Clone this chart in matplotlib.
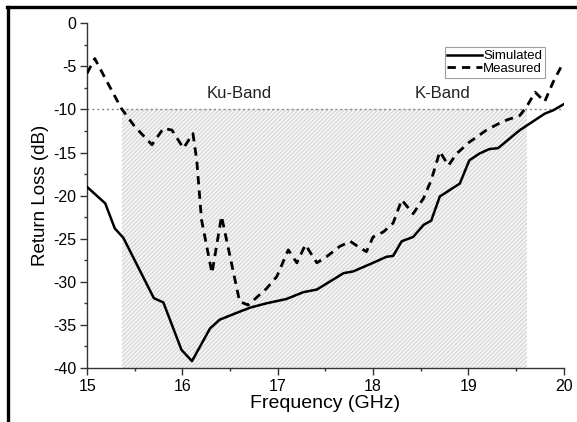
import matplotlib
matplotlib.use("Agg")
import matplotlib.pyplot as plt
from matplotlib.lines import Line2D
from matplotlib.ticker import MultipleLocator

plt.rcParams['font.family'] = ['Liberation Sans', 'DejaVu Sans']
plt.rcParams['hatch.linewidth'] = 0.6
plt.rcParams['axes.unicode_minus'] = False

sim_f = [15.0, 15.19, 15.29, 15.38, 15.70, 15.80, 15.99, 16.10, 16.29, 16.39, 16.57, 16.71,
         16.88, 17.09, 17.27, 17.41, 17.69, 17.79, 18.00, 18.14, 18.21, 18.30, 18.42, 18.53,
         18.61, 18.70, 18.91, 19.01, 19.12, 19.22, 19.31, 19.54, 19.80, 19.89, 20.0]
sim_db = [-19.0, -20.9, -23.8, -24.9, -31.9, -32.4, -37.9, -39.2, -35.4, -34.4, -33.6, -33.0,
          -32.5, -32.0, -31.2, -30.9, -29.0, -28.8, -27.8, -27.1, -27.0, -25.3, -24.8, -23.4,
          -22.9, -20.1, -18.6, -15.9, -15.1, -14.6, -14.5, -12.4, -10.5, -10.1, -9.4]

meas_f = [15.0, 15.08, 15.19, 15.36, 15.50, 15.68, 15.80, 15.89, 16.01, 16.11, 16.15, 16.20,
          16.31, 16.41, 16.60, 16.69, 16.88, 16.99, 17.11, 17.20, 17.29, 17.41, 17.51, 17.65,
          17.76, 17.84, 17.93, 18.00, 18.11, 18.21, 18.30, 18.42, 18.53, 18.61, 18.70, 18.79,
          18.88, 19.01, 19.19, 19.36, 19.54, 19.61, 19.70, 19.80, 19.89, 19.98]
meas_db = [-5.8, -4.1, -6.4, -9.9, -12.0, -14.1, -12.2, -12.4, -14.5, -12.8, -15.9, -22.8,
           -29.0, -22.4, -32.3, -32.7, -30.8, -29.4, -26.3, -27.8, -25.7, -27.8, -27.1, -25.9,
           -25.3, -25.9, -26.5, -24.8, -24.2, -23.2, -20.5, -22.1, -20.3, -18.2, -14.9, -16.5,
           -15.1, -13.8, -12.4, -11.4, -10.7, -9.7, -8.0, -9.1, -6.8, -4.9]

band_start, band_end = 15.37, 19.61
threshold = -10
band_labels = ["Ku-Band", "K-Band"]
band_label_x = [16.6, 18.73]

fig = plt.figure(figsize=(5.77, 4.22), dpi=100)
ax = fig.add_axes([0.151, 0.128, 0.826, 0.817])

ax.fill_between([band_start, band_end], [threshold, threshold], [-40, -40],
                facecolor='#f5f5f5', edgecolor='#cacaca', hatch='////////', linewidth=0, zorder=0)
ax.plot([15, 20], [threshold, threshold], linestyle=(0, (1.5, 2)), color='#888888', linewidth=1, zorder=1)

ax.plot(sim_f, sim_db, color='black', linewidth=1.8, label='Simulated', zorder=3)
ax.plot(meas_f, meas_db, color='black', linewidth=2.0, linestyle=(0, (3, 2.2)), label='Measured', zorder=3)

for t, x in zip(band_labels, band_label_x):
    ax.text(x, -8.2, t, ha='center', va='center', fontsize=12, color='#222222')

ax.set_xlim(15, 20)
ax.set_ylim(-40, 0)
ax.xaxis.set_major_locator(MultipleLocator(1))
ax.xaxis.set_minor_locator(MultipleLocator(0.5))
ax.yaxis.set_major_locator(MultipleLocator(5))
ax.yaxis.set_minor_locator(MultipleLocator(2.5))
for s in ['top', 'right']:
    ax.spines[s].set_visible(False)
for s in ['left', 'bottom']:
    ax.spines[s].set_color('#333333')
    ax.spines[s].set_linewidth(1.0)
ax.tick_params(which='major', direction='out', length=5, width=1, color='#333333', labelsize=11.5, pad=3)
ax.tick_params(which='minor', direction='out', length=2.5, width=1, color='#333333')
ax.set_xlabel('Frequency (GHz)', fontsize=14, labelpad=1)
ax.set_ylabel('Return Loss (dB)', fontsize=13.5, labelpad=3)

leg = ax.legend(loc='upper right', bbox_to_anchor=(0.96, 0.93), fontsize=9.5, frameon=True,
                fancybox=False, handlelength=2.6, handletextpad=0.1, borderpad=0.2,
                labelspacing=0.05, borderaxespad=0)
leg.get_frame().set_edgecolor('#888888')
leg.get_frame().set_linewidth(0.8)

# outer black frame (top and left)
fig.add_artist(Line2D([7 / 577, 1], [1 - 7 / 422, 1 - 7 / 422], color='black', linewidth=2.4,
                      transform=fig.transFigure))
fig.add_artist(Line2D([8 / 577, 8 / 577], [0, 1 - 7 / 422], color='black', linewidth=2.4,
                      transform=fig.transFigure))

fig.savefig('out.png', dpi=100)
